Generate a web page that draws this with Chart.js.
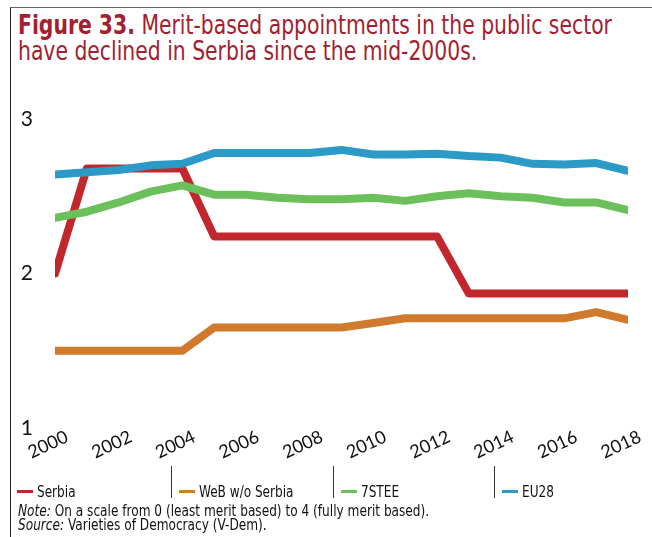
<!DOCTYPE html>
<html>
<head>
<meta charset="utf-8">
<script src="https://cdn.jsdelivr.net/npm/chart.js@4"></script>
<style>
  html, body { margin: 0; padding: 0; background: #fff; }
  #wrap { position: relative; width: 652px; height: 537px; overflow: hidden; }
  #frame { position: absolute; left: 10px; top: 7px; right: 0; bottom: 0;
           border-top: 1px solid #666; border-left: 1.5px solid #222; }
  #title { position: absolute; left: 18px; top: 12px; margin: 0; white-space: nowrap;
           font-family: "Liberation Sans Narrow", "DejaVu Sans Condensed", sans-serif;
           font-size: 26px; line-height: 26px; font-weight: normal; color: #a3212f;
           transform: scaleX(0.87); transform-origin: left top; }
  #title b { font-weight: bold; }
  #chart { position: absolute; left: 0; top: 0; }
  .leg { position: absolute; top: 466px; height: 32px; width: 161px;
         font-family: "Liberation Sans Narrow", "DejaVu Sans Condensed", sans-serif;
         font-size: 16px; color: #111; }
  .leg.sep { border-left: 1.5px solid #333; }
  .leg span.sw { position: absolute; left: 7px; top: 24px; width: 16px; height: 3px; }
  .leg span.tx { position: absolute; left: 27px; top: 16px; white-space: nowrap;
                 transform: scaleX(0.84); transform-origin: left top; }
  #note { position: absolute; left: 18px; top: 504px; white-space: nowrap;
          font-family: "Liberation Sans Narrow", "DejaVu Sans Condensed", sans-serif;
          font-size: 15px; line-height: 14px; color: #111;
          transform: scaleX(0.9); transform-origin: left top; }
</style>
</head>
<body>
<div id="wrap">
  <div id="frame"></div>
  <div id="title"><b>Figure 33.</b> Merit-based appointments in the public sector<br>have declined in Serbia since the mid-2000s.</div>
  <canvas id="chart" width="652" height="537"></canvas>
  <div id="legend"></div>
  <div id="note"><i>Note:</i> On a scale from 0 (least merit based) to 4 (fully merit based).<br><i>Source:</i> Varieties of Democracy (V-Dem).</div>
</div>
<script>
// Years on the x axis
const years = [2000, 2001, 2002, 2003, 2004, 2005, 2006, 2007, 2008, 2009,
               2010, 2011, 2012, 2013, 2014, 2015, 2016, 2017, 2018];

// Series values
const serbia = [2.00, 2.68, 2.68, 2.68, 2.68, 2.24, 2.24, 2.24, 2.24, 2.24,
                2.24, 2.24, 2.24, 1.87, 1.87, 1.87, 1.87, 1.87, 1.87];
const webNoSerbia = [1.50, 1.50, 1.50, 1.50, 1.50, 1.65, 1.65, 1.65, 1.65, 1.65,
                     1.68, 1.71, 1.71, 1.71, 1.71, 1.71, 1.71, 1.75, 1.70];
const stee7 = [2.36, 2.40, 2.46, 2.53, 2.57, 2.51, 2.51, 2.49, 2.48, 2.48,
               2.49, 2.47, 2.50, 2.52, 2.50, 2.49, 2.46, 2.46, 2.41];
const eu28 = [2.64, 2.655, 2.67, 2.70, 2.71, 2.78, 2.78, 2.78, 2.78, 2.80,
              2.77, 2.77, 2.775, 2.76, 2.75, 2.71, 2.705, 2.715, 2.665];

const seriesNames = ["Serbia", "WeB w/o Serbia", "7STEE", "EU28"];
const seriesColors = ["#c1272d", "#d07a2d", "#6cc05b", "#2b9ac7"];
const yTicks = [1, 2, 3];

const seriesData = [serbia, webNoSerbia, stee7, eu28];
const drawOrder = [3, 4, 1, 0]; // blue on top, then green, red, orange

function toPoints(vals) {
  return vals.map((v, i) => ({ x: years[i], y: v }));
}

const ctx = document.getElementById("chart").getContext("2d");
const chart = new Chart(ctx, {
  type: "line",
  data: {
    datasets: seriesNames.map((name, i) => ({
      label: name,
      data: toPoints(seriesData[i]),
      borderColor: seriesColors[i],
      backgroundColor: seriesColors[i],
      borderWidth: 8,
      pointRadius: 0,
      tension: 0,
      borderCapStyle: "round",
      borderJoinStyle: "round",
      order: drawOrder[i],
    })),
  },
  options: {
    responsive: false,
    animation: false,
    layout: { padding: { left: 21, right: 24, top: 119, bottom: 69 } },
    plugins: { legend: { display: false }, tooltip: { enabled: false } },
    scales: {
      x: {
        type: "linear",
        min: 2000,
        max: 2018,
        grid: { display: false, drawTicks: false },
        border: { display: false },
        afterFit: (s) => { s.height = 40; },
        ticks: {
          stepSize: 2,
          minRotation: 25,
          maxRotation: 25,
          labelOffset: 12,
          padding: -2,
          color: "#111",
          font: { family: "Lato", size: 18 },
          callback: (v) => String(v),
        },
      },
      y: {
        min: 1,
        max: 3,
        grid: { display: false, drawTicks: false },
        border: { display: false },
        afterFit: (s) => { s.width = 34; },
        afterBuildTicks: (s) => { s.ticks = yTicks.map((v) => ({ value: v })); },
        ticks: {
          padding: 22,
          color: "#111",
          font: { family: "Lato", size: 21 },
        },
      },
    },
  },
});

// Legend with separators
const legend = document.getElementById("legend");
seriesNames.forEach((name, i) => {
  const d = document.createElement("div");
  d.className = "leg" + (i > 0 ? " sep" : "");
  d.style.left = (10 + i * 161.3) + "px";
  d.innerHTML = '<span class="sw" style="background:' + seriesColors[i] + '"></span><span class="tx">' + name + "</span>";
  legend.appendChild(d);
});
</script>
</body>
</html>
